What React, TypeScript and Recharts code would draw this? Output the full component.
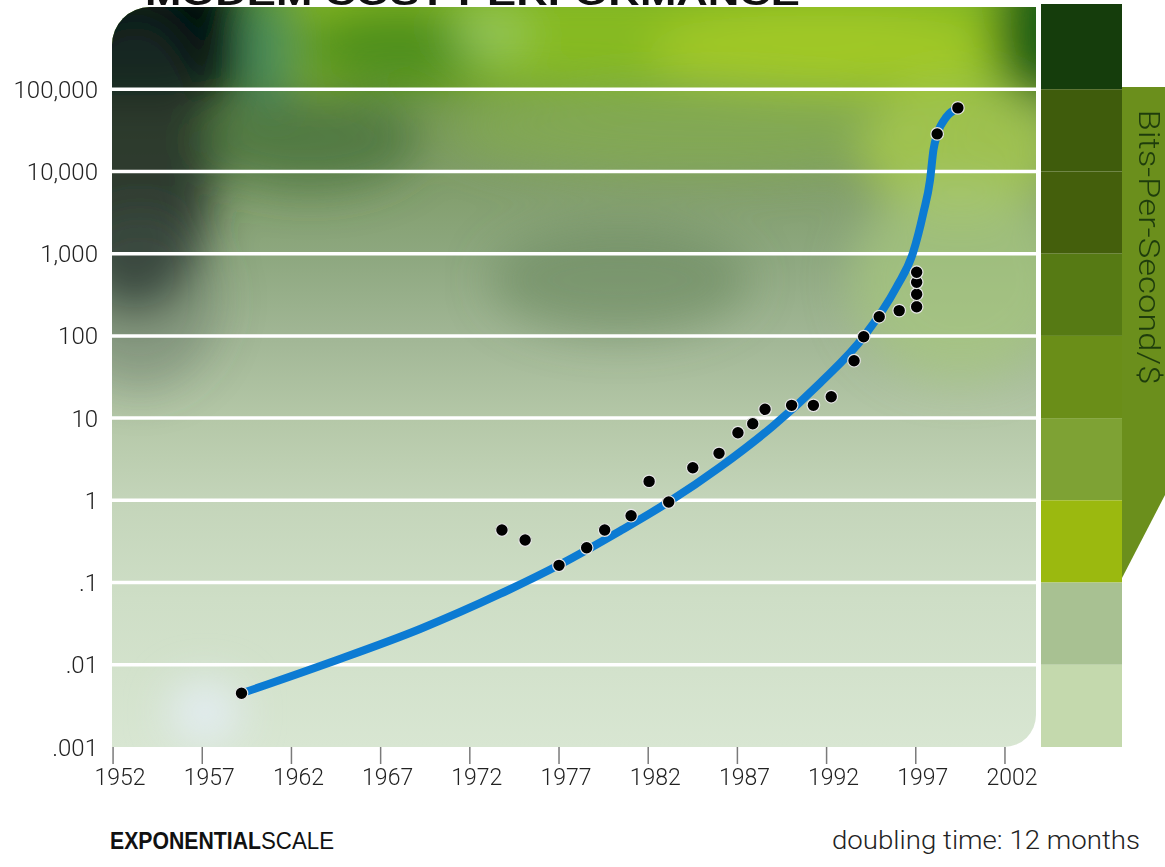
import { ComposedChart, Line, Scatter, XAxis, YAxis, ReferenceLine } from 'recharts'

// axis ticks
const yearTicks = [1952, 1957, 1962, 1967, 1972, 1977, 1982, 1987, 1992, 1997, 2002]
const valueTicks = [0.001, 0.01, 0.1, 1, 10, 100, 1000, 10000, 100000]
const valueLabels = ['.001', '.01', '.1', '1', '10', '100', '1,000', '10,000', '100,000']
const gridValues = [0.01, 0.1, 1, 10, 100, 1000, 10000, 100000]

// modem data points (year, bits-per-second per dollar)
const modemYears = [
  1959.2, 1973.8, 1975.1, 1977.0, 1978.55, 1979.56, 1981.04, 1982.05, 1983.15, 1984.5,
  1985.97, 1987.03, 1987.86, 1988.55, 1990.04, 1991.26, 1992.26, 1993.54, 1994.08, 1994.95,
  1996.07, 1997.05, 1997.05, 1997.05, 1997.05, 1998.2, 1999.36,
]
const modemBps = [
  0.0045, 0.435, 0.329, 0.162, 0.265, 0.435, 0.65, 1.7, 0.953, 2.49,
  3.73, 6.64, 8.55, 12.8, 14.3, 14.3, 18.2, 49.9, 97.7, 171,
  203, 226, 321, 449, 594, 28600, 59300,
]

// trend curve
const trendYears = [
  1959.21, 1964.16, 1969.21, 1973.69, 1977.0, 1980.42, 1983.17, 1986.03, 1989.0, 1991.63,
  1994.08, 1995.93, 1996.84, 1997.42, 1997.8, 1997.99, 1998.21, 1998.73, 1999.37,
]
const trendBps = [
  0.0045, 0.01066, 0.02723, 0.0726, 0.1633, 0.4236, 0.962, 2.54, 8.02, 26.7,
  97.7, 396, 1019, 3097, 7870, 18230, 28520, 46300, 59100,
]

// decade swatches on the right, top to bottom
const bandColors = ['#153d0c', '#3f5c0c', '#445f0c', '#567a14', '#6a8e18', '#7ea234', '#9bb90f', '#a8c192', '#c4d9ad']

const modem = modemYears.map((year, i) => ({ year, bps: modemBps[i] }))
const trend = trendYears.map((year, i) => ({ year, bps: trendBps[i] }))

const W = 1165
const H = 867
const PL = 112
const PR = 1036
const PT = 7
const PB = 747

const labelFont = { fontFamily: 'Roboto, "Open Sans", sans-serif', fontWeight: 300 }

function Dot(props: any) {
  const { cx, cy } = props
  if (cx == null || cy == null) return null
  return <circle cx={cx} cy={cy} r={6.3} fill="#000" stroke="#e6e6e6" strokeWidth={1.2} />
}

function YearTick(props: any) {
  const { x, y, payload } = props
  return (
    <text x={x + 7} y={y + 16} textAnchor="middle" {...labelFont} fontSize={23} fill="#222">
      {payload.value}
    </text>
  )
}

function Backdrop() {
  const r1 = 38
  const r2 = 32
  const clip = `M ${PL + r1} ${PT} H ${PR} V ${PB - r2} A ${r2} ${r2} 0 0 1 ${PR - r2} ${PB} H ${PL} V ${PT + r1} A ${r1} ${r1} 0 0 1 ${PL + r1} ${PT} Z`
  const bandH = (PB - PT) / 9
  return (
    <svg width={W} height={H} style={{ position: 'absolute', left: 0, top: 0 }}>
      <defs>
        <clipPath id="plotClip">
          <path d={clip} />
        </clipPath>
        <linearGradient id="baseGrad" x1="0" y1="0" x2="0" y2="1">
          <stop offset="0" stopColor="#6a9e26" />
          <stop offset="0.11" stopColor="#6f9a38" />
          <stop offset="0.12" stopColor="#73984e" />
          <stop offset="0.22" stopColor="#7f9c68" />
          <stop offset="0.34" stopColor="#8ea880" />
          <stop offset="0.45" stopColor="#a2b796" />
          <stop offset="0.56" stopColor="#b5c8a8" />
          <stop offset="0.67" stopColor="#c4d5ba" />
          <stop offset="0.8" stopColor="#cedec6" />
          <stop offset="1" stopColor="#d8e6d2" />
        </linearGradient>
        <filter id="soft" x="-30%" y="-30%" width="160%" height="160%">
          <feGaussianBlur stdDeviation="22" />
        </filter>
      </defs>

      <g clipPath="url(#plotClip)">
        <rect x={PL} y={PT} width={PR - PL} height={PB - PT} fill="url(#baseGrad)" />
        <g filter="url(#soft)">
          <rect x={300} y={-20} width={700} height={105} fill="#86ba22" />
          <ellipse cx={400} cy={45} rx={100} ry={40} fill="#4f901e" />
          <ellipse cx={490} cy={35} rx={40} ry={25} fill="#9ccc66" opacity={0.8} />
          <ellipse cx={820} cy={50} rx={170} ry={45} fill="#a0c826" />
          <ellipse cx={1040} cy={30} rx={45} ry={70} fill="#1c5e14" />
          <rect x={60} y={-30} width={180} height={125} fill="#050c09" />
          <ellipse cx={135} cy={160} rx={80} ry={150} fill="#1d2b25" opacity={0.85} />
          <ellipse cx={140} cy={300} rx={80} ry={90} fill="#4f5f55" opacity={0.35} />
          <ellipse cx={268} cy={50} rx={22} ry={65} fill="#3f8a6a" opacity={0.85} />
          <ellipse cx={310} cy={140} rx={110} ry={50} fill="#3f6a36" opacity={0.65} />
          <ellipse cx={700} cy={130} rx={250} ry={45} fill="#86ae52" opacity={0.7} />
          <ellipse cx={960} cy={150} rx={100} ry={70} fill="#a8ca4e" opacity={0.8} />
          <ellipse cx={620} cy={280} rx={130} ry={55} fill="#66855c" opacity={0.55} />
          <ellipse cx={960} cy={280} rx={110} ry={100} fill="#a6c87e" opacity={0.7} />
          <ellipse cx={205} cy={712} rx={35} ry={30} fill="#e6eef8" opacity={0.9} />
        </g>
      </g>

      {/* title, mostly above the page edge */}
      <text x={145} y={5} fontFamily="Liberation Sans, Arial, sans-serif" fontWeight={700} fontSize={34} fill="#111" textLength={655} lengthAdjust="spacingAndGlyphs">
        MODEM COST-PERFORMANCE
      </text>

      {/* decade swatches and label tab */}
      <path d={`M 1122 ${PT + 80} H ${W} V 495 L 1122 578 Z`} fill="#6b8f1c" />
      {bandColors.map((c, i) => (
        <rect key={c + i} x={1041} y={i === 0 ? 4 : PT + bandH * i} width={81} height={i === 0 ? PT + bandH - 4 : bandH} fill={c} />
      ))}
      <text
        transform="translate(1139 247) rotate(90)"
        textAnchor="middle"
        {...labelFont}
        fontSize={29}
        fill="#1e3c0c"
        textLength={275}
        lengthAdjust="spacingAndGlyphs"
      >
        Bits-Per-Second/$
      </text>

      <text x={110} y={849} fontFamily="Liberation Sans, Arial, sans-serif" fontWeight={700} fontSize={23} fill="#111" textLength={151} lengthAdjust="spacingAndGlyphs">
        EXPONENTIAL
      </text>
      <text x={261} y={849} fontFamily="Liberation Sans, Arial, sans-serif" fontWeight={400} fontSize={23} fill="#111" textLength={73} lengthAdjust="spacingAndGlyphs">
        SCALE
      </text>
      <text x={1140} y={849} textAnchor="end" {...labelFont} fontSize={25} fill="#222" textLength={308} lengthAdjust="spacingAndGlyphs">
        doubling time: 12 months
      </text>
    </svg>
  )
}

export default function App() {
  return (
    <div style={{ position: 'relative', width: W, height: H }}>
      <style>{'body{margin:0}'}</style>
      <Backdrop />
      <ComposedChart width={W} height={H} margin={{ top: PT, right: W - PR, bottom: 80, left: 12 }}>
        <XAxis
          type="number"
          dataKey="year"
          domain={[1951.94, 2003.74]}
          ticks={yearTicks}
          allowDataOverflow
          axisLine={false}
          tickLine={{ stroke: '#7a7a7a', strokeWidth: 1.5 }}
          tickSize={17}
          tickMargin={5}
          height={40}
          tick={<YearTick />}
        />
        <YAxis
          type="number"
          dataKey="bps"
          scale="log"
          domain={[0.001, 1000000]}
          ticks={valueTicks}
          allowDataOverflow
          axisLine={false}
          tickLine={false}
          tickSize={6}
          tickMargin={8}
          width={100}
          tickFormatter={(v: number) => valueLabels[valueTicks.indexOf(v)] ?? String(v)}
          tick={{ ...labelFont, fontSize: 24, fill: '#222' }}
        />
        {gridValues.map((v) => (
          <ReferenceLine key={v} y={v} stroke="#ffffff" strokeWidth={3.5} />
        ))}
        <Line
          data={trend}
          dataKey="bps"
          type="monotone"
          stroke="#0c7bd3"
          strokeWidth={8}
          strokeLinecap="round"
          dot={false}
          activeDot={false}
          isAnimationActive={false}
        />
        <Scatter data={modem} dataKey="bps" shape={<Dot />} isAnimationActive={false} />
      </ComposedChart>
    </div>
  )
}
